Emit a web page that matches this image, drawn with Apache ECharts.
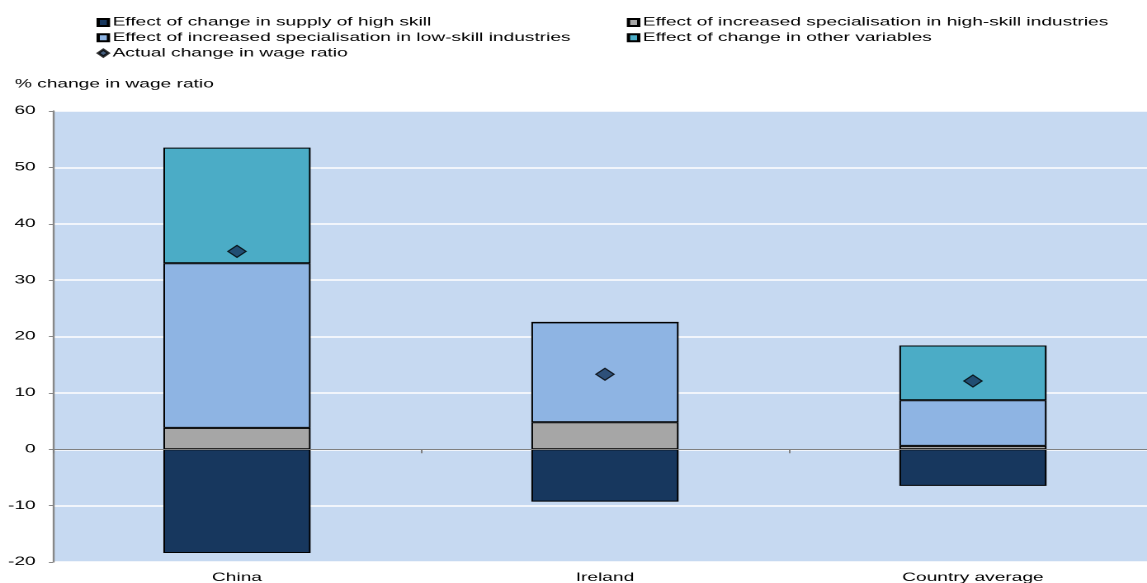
<!DOCTYPE html>
<html>
<head>
<meta charset="utf-8">
<script src="https://cdn.jsdelivr.net/npm/echarts@6/dist/echarts.min.js"></script>
<style>
html,body{margin:0;padding:0;background:#fff;overflow:hidden}
#wrap{width:1147px;height:583px;overflow:hidden;position:relative}
#c{width:695px;height:583px;transform:scaleX(1.6504);transform-origin:0 0;position:absolute;left:0;top:0}
</style>
</head>
<body>
<div id="wrap"><div id="c"></div></div>
<script>
const categories = ['China', 'Ireland', 'Country average'];
const supplyHighSkill = [-18.4, -9.3, -6.5];
const highSkillSpec = [3.8, 4.8, 0.6];
const lowSkillSpec = [29.2, 17.7, 8.1];
const otherVars = [20.5, 0, 9.7];
const actualChange = [35.1, 13.3, 12.1];
const yTicks = { min: -20, max: 60, interval: 10 };

const font = 'Liberation Sans, Arial, sans-serif';
const fs = 11.6;
const chart = echarts.init(document.getElementById('c'), null, { devicePixelRatio: 2 });
const barBase = { type: 'bar', stack: 'total', barWidth: '40%', xAxisIndex: 0 };
const legendText = { fontSize: fs, color: '#000', fontFamily: font, lineHeight: 12, padding: [0, 0, 0, -2.5] };
chart.setOption({
  animation: false,
  textStyle: { fontFamily: font },
  grid: { left: 32.1, top: 111, right: -6, bottom: 21, show: true, backgroundColor: '#C6D9F1', borderWidth: 0,
    containLabel: false, outerBoundsMode: 'none' },
  legend: [
    { orient: 'vertical', left: 53.5, top: 11.5, itemWidth: 6.2, itemHeight: 7, itemGap: 3.3,
      textStyle: legendText,
      data: [
        { name: 'Effect of change in supply of high skill', icon: 'rect' },
        { name: 'Effect of increased specialisation in low-skill industries', icon: 'rect' },
        { name: 'Actual change in wage ratio', icon: 'diamond' }] },
    { orient: 'vertical', left: 374.8, top: 11.5, itemWidth: 6.2, itemHeight: 7, itemGap: 3.3,
      textStyle: legendText,
      data: [
        { name: 'Effect of increased specialisation in high-skill industries', icon: 'rect' },
        { name: 'Effect of change in other variables', icon: 'rect' }] }
  ],
  graphic: [{ type: 'text', left: 9, top: 78.5, style: { text: '% change in wage ratio', fontSize: fs, fill: '#000', fontFamily: font } }],
  xAxis: [
    { type: 'category', data: categories, position: 'bottom', z: 3,
      axisLine: { show: true, onZero: true, lineStyle: { color: '#808080', width: 1 } },
      axisTick: { show: true, length: 4, lineStyle: { color: '#808080' } },
      axisLabel: { show: false } },
    { type: 'category', data: categories, position: 'bottom',
      axisLine: { show: false, onZero: false }, axisTick: { show: false },
      axisLabel: { fontSize: fs, color: '#000', margin: 10, fontFamily: font } }
  ],
  yAxis: {
    type: 'value', min: yTicks.min, max: yTicks.max, interval: yTicks.interval,
    axisLine: { show: true, onZero: false, lineStyle: { color: '#888', width: 1.2 } },
    axisTick: { show: true, length: 2.5, lineStyle: { color: '#888' } },
    axisLabel: { fontSize: fs, color: '#000', margin: 10.5, fontFamily: font },
    splitLine: { lineStyle: { color: '#FFFFFF', width: 1.5 } }
  },
  series: [
    Object.assign({}, barBase, { name: 'Effect of change in supply of high skill', data: supplyHighSkill,
      itemStyle: { color: '#17375E', borderColor: '#000', borderWidth: 1 } }),
    Object.assign({}, barBase, { name: 'Effect of increased specialisation in high-skill industries', data: highSkillSpec,
      itemStyle: { color: '#A6A6A6', borderColor: '#000', borderWidth: 1 } }),
    Object.assign({}, barBase, { name: 'Effect of increased specialisation in low-skill industries', data: lowSkillSpec,
      itemStyle: { color: '#8EB4E3', borderColor: '#000', borderWidth: 1 } }),
    Object.assign({}, barBase, { name: 'Effect of change in other variables', data: otherVars,
      itemStyle: { color: '#4BACC6', borderColor: '#000', borderWidth: 1 } }),
    { type: 'scatter', name: 'Actual change in wage ratio', data: actualChange, xAxisIndex: 0,
      symbol: 'diamond', symbolSize: [11, 12], z: 5,
      itemStyle: { color: '#17375E', borderColor: '#000', borderWidth: 1 } }
  ]
});
</script>
</body>
</html>
